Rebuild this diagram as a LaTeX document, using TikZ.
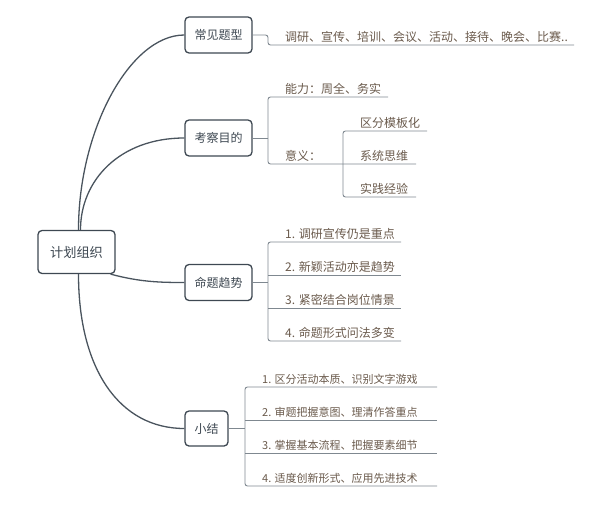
\documentclass[tikz,border=0pt]{standalone}
\usepackage{fontspec}
\setmainfont{Noto Sans CJK SC}
\definecolor{boxc}{HTML}{3E4852}
\definecolor{curvec}{HTML}{4A545E}
\definecolor{linec}{HTML}{7F8890}
\definecolor{leaftxt}{HTML}{6A5A4C}
\begin{document}
\begin{tikzpicture}[x=1pt,y=-1pt,
  box/.style={draw=boxc,line width=1.3pt,rounded corners=4pt,fill=white,text=boxc,
    font=\fontsize{12}{14}\selectfont,inner sep=0pt},
  main/.style={draw=curvec,line width=1.3pt},
  lline/.style={draw=linec,line width=0.9pt,rounded corners=2.5pt},
  leaf/.style={anchor=base west,inner sep=0pt,text=leaftxt,font=\fontsize{12}{14}\selectfont},
  leafs/.style={leaf,font=\fontsize{11}{13}\selectfont}]
\useasboundingbox (0,0) rectangle (608,506);
% root
\node[box,minimum width=77pt,minimum height=43pt,font=\fontsize{13.2}{15}\selectfont] (root) at (76.5,252) {计划组织};
% branches
\node[box,minimum width=67pt,minimum height=36pt] (b1) at (218.5,35) {常见题型};
\node[box,minimum width=67pt,minimum height=36pt] (b2) at (218.5,138) {考察目的};
\node[box,minimum width=67pt,minimum height=36pt] (b3) at (218.5,282.5) {命题趋势};
\node[box,minimum width=43pt,minimum height=35pt] (b4) at (206.5,428.5) {小结};
% curves
\draw[main] ([xshift=2pt]root.north) .. controls (78.5,130) and (130,35) .. (b1.west);
\draw[main] ([xshift=4pt]root.north) .. controls (80.5,180) and (120,138) .. (b2.west);
\draw[main] ([xshift=-5pt]root.south east) .. controls (140,282) and (160,282.5) .. (b3.west);
\draw[main] ([xshift=2pt]root.south) .. controls (78.5,370) and (120,428.5) .. (b4.west);
% branch 1
\node[leaf] (l11) at (285,41) {调研、宣传、培训、会议、活动、接待、晚会、比赛..};
\draw[lline] (b1.east) -- (268,35) |- (574,45);
% branch 2
\node[leaf] (l21) at (285,93) {能力：周全、务实};
\node[leaf] (l22) at (285,160) {意义：};
\node[leaf] (l23) at (360,127) {区分模板化};
\node[leaf] (l24) at (360,160) {系统思维};
\node[leaf] (l25) at (360,193) {实践经验};
\coordinate (k2) at (268,138);
\draw[lline] (b2.east) -- (k2);
\draw[lline] (k2) |- (388,97);
\draw[lline] (k2) |- (416,164);
\coordinate (k3) at (343,164);
\draw[lline] (k3) |- (427,131);
\draw[lline] (k3) |- (416,197);
% branch 3
\node[leaf] (l31) at (285,238) {1. 调研宣传仍是重点};
\node[leaf] (l32) at (285,271) {2. 新颖活动亦是趋势};
\node[leaf] (l33) at (285,304) {3. 紧密结合岗位情景};
\node[leaf] (l34) at (285,337) {4. 命题形式问法多变};
\coordinate (k4) at (268,282.5);
\draw[lline] (b3.east) -- (k4);
\draw[lline] (k4) |- (401,242);
\draw[lline] (k4) |- (401,341);
\draw[lline] (268,275) -- (401,275);
\draw[lline] (268,308) -- (401,308);
% branch 4
\node[leafs] (l41) at (262,383) {1. 区分活动本质、识别文字游戏};
\node[leafs] (l42) at (262,416) {2. 审题把握意图、理清作答重点};
\node[leafs] (l43) at (262,449) {3. 掌握基本流程、把握要素细节};
\node[leafs] (l44) at (262,482) {4. 适度创新形式、应用先进技术};
\coordinate (k5) at (245,428.5);
\draw[lline] (b4.east) -- (k5);
\draw[lline] (k5) |- (437,387);
\draw[lline] (k5) |- (437,486);
\draw[lline] (245,420) -- (437,420);
\draw[lline] (245,453) -- (437,453);
\end{tikzpicture}
\end{document}
